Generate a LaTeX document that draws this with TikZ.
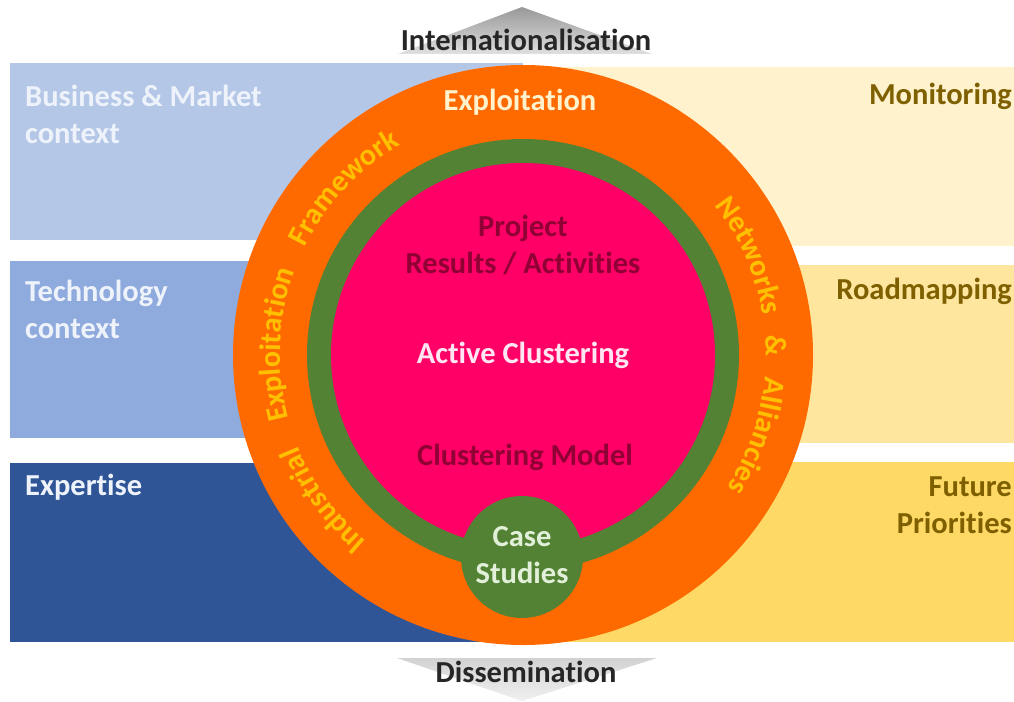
\documentclass[tikz,border=0pt]{standalone}
\usepackage{fontspec}
\setmainfont{Carlito}[Ligatures={NoCommon}]
\usetikzlibrary{decorations.text}
\definecolor{bandLA}{HTML}{B4C7E7}
\definecolor{bandLB}{HTML}{8FAADC}
\definecolor{bandLC}{HTML}{2F5597}
\definecolor{bandRA}{HTML}{FFF2CC}
\definecolor{bandRB}{HTML}{FFE69E}
\definecolor{bandRC}{HTML}{FFD966}
\definecolor{orng}{HTML}{FF6A00}
\definecolor{grn}{HTML}{548235}
\definecolor{pnk}{HTML}{FF0066}
\definecolor{ringtxt}{HTML}{FFC000}
\definecolor{darkred}{HTML}{900035}
\definecolor{olive}{HTML}{7F6000}
\definecolor{paleblue}{HTML}{EEF3FB}
\definecolor{palegreen}{HTML}{E2F0D9}
\definecolor{palepink}{HTML}{FFE6F2}
\definecolor{cream}{HTML}{FFF2CC}
\definecolor{darktxt}{HTML}{262626}
\begin{document}
\begin{tikzpicture}[x=1pt,y=1pt,
  lbl/.style={font=\fontsize{30.5}{37}\selectfont\bfseries, inner sep=0pt},
  ringlbl/.style={decorate, decoration={text along path, text align=center,
     text={|\fontsize{30}{36}\selectfont\bfseries\color{ringtxt}|#1}}}]
\useasboundingbox (0,0) rectangle (1014,-701);
\fill[white] (0,0) rectangle (1014,-701);
% arrows
\shade[top color=gray!80, bottom color=gray!25] (398,-54) -- (522,-7) -- (652,-54) -- cycle;
\shade[top color=gray!35, bottom color=gray!12] (397,-658) -- (657,-658) -- (522,-701) -- cycle;
% bands
\fill[bandLA] (10,-63) rectangle (523,-240);
\fill[bandLB] (10,-261) rectangle (523,-438);
\fill[bandLC] (10,-463) rectangle (523,-642);
\fill[bandRA] (523,-67) rectangle (1014,-246);
\fill[bandRB] (523,-265) rectangle (1014,-443);
\fill[bandRC] (523,-462) rectangle (1014,-642);
% circles
\node[circle, fill=orng, minimum size=580pt, inner sep=0pt] (outer) at (523,-355) {};
\node[circle, fill=grn, minimum size=432pt, inner sep=0pt] (ring) at (523,-355) {};
\node[circle, fill=pnk, minimum size=384pt, inner sep=0pt] (core) at (523,-355) {};
\node[circle, fill=grn, minimum size=122pt, inner sep=0pt] (case) at (522,-557) {};
% labels
\node[lbl, text=darktxt] (intl) at (526,-40) {Internationalisation};
\node[lbl, text=darktxt] (diss) at (526,-672) {Dissemination};
\node[lbl, text=paleblue, align=left, anchor=west] (bm) at (25,-114) {Business \& Market\\context};
\node[lbl, text=paleblue, align=left, anchor=west] (tc) at (25,-309) {Technology\\context};
\node[lbl, text=paleblue, anchor=west] (ex) at (25,-487) {Expertise};
\node[lbl, text=olive, anchor=east] (mon) at (1012,-96) {Monitoring};
\node[lbl, text=olive, anchor=east] (road) at (1012,-291) {Roadmapping};
\node[lbl, text=olive, align=right, anchor=east] (fut) at (1012,-505) {Future\\Priorities};
\node[lbl, text=cream] (expl) at (520,-102) {Exploitation};
\node[lbl, text=darkred, align=center] (proj) at (523,-245) {Project\\Results / Activities};
\node[lbl, text=palepink] (act) at (523,-355) {Active Clustering};
\node[lbl, text=darkred] (model) at (525,-457) {Clustering Model};
\node[lbl, text=palegreen, align=center] (casetxt) at (522,-555) {Case\\Studies};
% ring texts
\path[ringlbl={Framework}] (outer.center) ++(160:243) arc[start angle=160, end angle=114, radius=243];
\path[ringlbl={Exploitation}] (outer.center) ++(205:243) arc[start angle=205, end angle=150, radius=243];
\path[ringlbl={Industrial}] (outer.center) ++(245:243) arc[start angle=245, end angle=187, radius=243];
\path[ringlbl={Networks \ \ {\&} \ \ Alliancies}] (outer.center) ++(48:243) arc[start angle=48, end angle=-43, radius=243];
\end{tikzpicture}
\end{document}
